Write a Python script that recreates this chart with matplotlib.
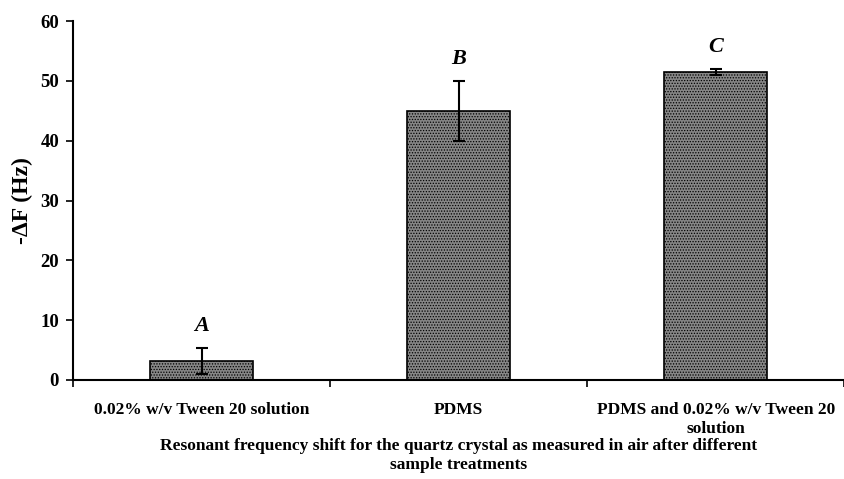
import numpy as np
import matplotlib.pyplot as plt

# =========================
# DATA
# =========================

categories = [
    "0.02% w/v Tween 20 solution",
    "PDMS",
    "PDMS and 0.02% w/v Tween 20\nsolution"
]

shift_hz = [3.2, 45.0, 51.4]

shift_err = [2.2, 5.0, 0.5]

group_letters = ["A", "B", "C"]

# =========================
# STYLE
# =========================

plt.rcParams["font.family"] = ["Liberation Serif", "DejaVu Serif"]
plt.rcParams["font.weight"] = "bold"
plt.rcParams["hatch.color"] = "#d0d0d0"
plt.rcParams["hatch.linewidth"] = 0.6

fig = plt.figure(figsize=(8.45, 4.79), dpi=100)

ax = fig.add_axes([73 / 845, 1 - 380 / 479, 1 - 73 / 845 - 0.001, 359 / 479])

x = np.arange(len(categories)) + 0.5

ax.bar(
    x,
    shift_hz,
    width=0.4,
    color="#868686",
    edgecolor="black",
    linewidth=1.2,
    hatch="......",
    yerr=shift_err,
    error_kw=dict(ecolor="black", elinewidth=1.5, capsize=4, capthick=1.5),
    zorder=2
)

for xi, val, err, letter in zip(x, shift_hz, shift_err, group_letters):
    ax.text(
        xi,
        val + err + 2.0,
        letter,
        ha="center",
        va="bottom",
        fontsize=16,
        fontstyle="italic",
        fontweight="bold"
    )

ax.set_xlim(0, 3)
ax.set_ylim(0, 60)
ax.set_yticks(np.arange(0, 61, 10))

ax.set_xticks(x)
ax.set_xticklabels(categories, fontsize=12.5, fontweight="bold", linespacing=1.2)
ax.set_xticks([0, 1, 2, 3], minor=True)
ax.tick_params(axis="x", which="major", length=0, pad=16)
ax.tick_params(axis="x", which="minor", length=5, width=1.2, direction="out")
ax.tick_params(axis="y", length=5, width=1.2, labelsize=13.5, pad=5)

for lbl in ax.get_yticklabels():
    lbl.set_fontweight("bold")

ax.set_ylabel("-ΔF (Hz)", fontsize=17, fontweight="bold", labelpad=5)
ax.set_xlabel(
    "Resonant frequency shift for the quartz crystal as measured in air after different\nsample treatments",
    fontsize=12.5,
    fontweight="bold",
    labelpad=1,
    linespacing=1.25
)

ax.spines["top"].set_visible(False)
ax.spines["right"].set_visible(False)
ax.spines["left"].set_linewidth(1.5)
ax.spines["bottom"].set_linewidth(1.5)

fig.savefig("out.png", dpi=100)
